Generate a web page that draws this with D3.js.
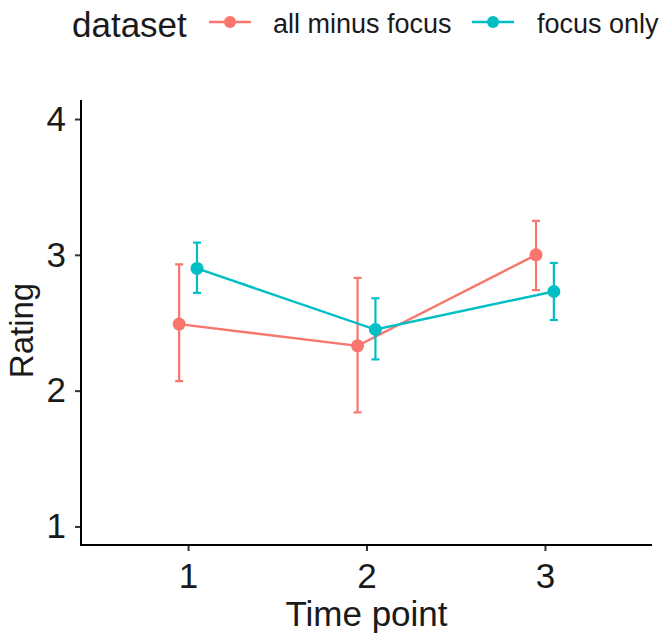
<!DOCTYPE html>
<html>
<head>
<meta charset="utf-8">
<script src="https://cdn.jsdelivr.net/npm/d3@7/dist/d3.min.js"></script>
<style>
  body { margin: 0; background: #fff; }
  svg text { font-family: "Liberation Sans", Arial, sans-serif; fill: #1a1a1a; }
</style>
</head>
<body>
<svg id="chart" width="660" height="637"></svg>
<script>
// ---------------------------------------------------------------------------
// Data
// ---------------------------------------------------------------------------
const timePoints = [1, 2, 3];
const datasets = ["all minus focus", "focus only"];
const colors = ["#F8766D", "#00BFC4"];

const meanAllMinus  = [2.49, 2.33, 3.00];
const lowerAllMinus = [2.07, 1.84, 2.74];
const upperAllMinus = [2.93, 2.83, 3.25];

const meanFocus  = [2.90, 2.45, 2.73];
const lowerFocus = [2.72, 2.23, 2.52];
const upperFocus = [3.09, 2.68, 2.94];

const yTicks = [1, 2, 3, 4];

// ---------------------------------------------------------------------------
// Layout
// ---------------------------------------------------------------------------
const svg = d3.select("#chart");
const panel = { left: 81, right: 652, top: 100, bottom: 545 };
const dodge = 0.05;

const x = d3.scaleLinear().domain([0.4, 3.6]).range([panel.left, panel.right]);
const y = d3.scaleLinear().domain([0.8635, 4.14]).range([panel.bottom, panel.top]);

const series = [
  { name: datasets[0], color: colors[0], off: -dodge, mean: meanAllMinus, lo: lowerAllMinus, hi: upperAllMinus },
  { name: datasets[1], color: colors[1], off:  dodge, mean: meanFocus,    lo: lowerFocus,    hi: upperFocus },
];

// ---------------------------------------------------------------------------
// Axes
// ---------------------------------------------------------------------------
const yAxis = svg.append("g")
  .attr("transform", `translate(${panel.left},0)`)
  .call(d3.axisLeft(y).tickValues(yTicks).tickSize(6).tickPadding(9).tickFormat(d3.format("d")));
const xAxis = svg.append("g")
  .attr("transform", `translate(0,${panel.bottom})`)
  .call(d3.axisBottom(x).tickValues(timePoints).tickSize(6).tickPadding(12).tickFormat(d3.format("d")));

[yAxis, xAxis].forEach((ax) => {
  ax.select(".domain").remove();
  ax.selectAll(".tick line").attr("stroke", "#333").attr("stroke-width", 2);
  ax.selectAll(".tick text").attr("font-size", "35px").attr("fill", "#1a1a1a");
});

svg.append("line")
  .attr("x1", panel.left).attr("x2", panel.left)
  .attr("y1", panel.top).attr("y2", panel.bottom + 1)
  .attr("stroke", "#000").attr("stroke-width", 2);
svg.append("line")
  .attr("x1", panel.left - 1).attr("x2", panel.right)
  .attr("y1", panel.bottom).attr("y2", panel.bottom)
  .attr("stroke", "#000").attr("stroke-width", 2);

svg.append("text")
  .attr("x", (panel.left + panel.right) / 2).attr("y", 626)
  .attr("text-anchor", "middle").attr("font-size", "35px")
  .text("Time point");
svg.append("text")
  .attr("transform", `translate(33,${(panel.top + panel.bottom) / 2 + 8}) rotate(-90)`)
  .attr("text-anchor", "middle").attr("font-size", "33px")
  .text("Rating");

// ---------------------------------------------------------------------------
// Marks
// ---------------------------------------------------------------------------
const line = d3.line().x((d) => x(d.t)).y((d) => y(d.v));
const capHalf = 0.0225;

series.forEach((s) => {
  const pts = timePoints.map((t, i) => ({ t: t + s.off, v: s.mean[i], lo: s.lo[i], hi: s.hi[i] }));
  const g = svg.append("g");

  g.selectAll("line.bar").data(pts).join("line")
    .attr("x1", (d) => x(d.t)).attr("x2", (d) => x(d.t))
    .attr("y1", (d) => y(d.lo)).attr("y2", (d) => y(d.hi))
    .attr("stroke", s.color).attr("stroke-width", 2.2);
  ["lo", "hi"].forEach((k) => {
    g.selectAll(`line.cap-${k}`).data(pts).join("line")
      .attr("x1", (d) => x(d.t - capHalf)).attr("x2", (d) => x(d.t + capHalf))
      .attr("y1", (d) => y(d[k])).attr("y2", (d) => y(d[k]))
      .attr("stroke", s.color).attr("stroke-width", 2.2);
  });

  g.append("path").datum(pts.map((d) => ({ t: d.t, v: d.v })))
    .attr("d", line).attr("fill", "none")
    .attr("stroke", s.color).attr("stroke-width", 2.4);

  g.selectAll("circle").data(pts).join("circle")
    .attr("cx", (d) => x(d.t)).attr("cy", (d) => y(d.v))
    .attr("r", 6.5).attr("fill", s.color);
});

// ---------------------------------------------------------------------------
// Legend
// ---------------------------------------------------------------------------
const legY = 22;
svg.append("text").attr("x", 72).attr("y", 37)
  .attr("font-size", "35px").text("dataset");

const legendKeys = [
  { x0: 209, tx: 273 },
  { x0: 472, tx: 537 },
];
series.forEach((s, i) => {
  const k = legendKeys[i];
  svg.append("line")
    .attr("x1", k.x0).attr("x2", k.x0 + 42).attr("y1", legY).attr("y2", legY)
    .attr("stroke", s.color).attr("stroke-width", 2.4);
  svg.append("circle").attr("cx", k.x0 + 21).attr("cy", legY).attr("r", 6).attr("fill", s.color);
  svg.append("text").attr("x", k.tx).attr("y", 33)
    .attr("font-size", "27px").text(s.name);
});
</script>
</body>
</html>
